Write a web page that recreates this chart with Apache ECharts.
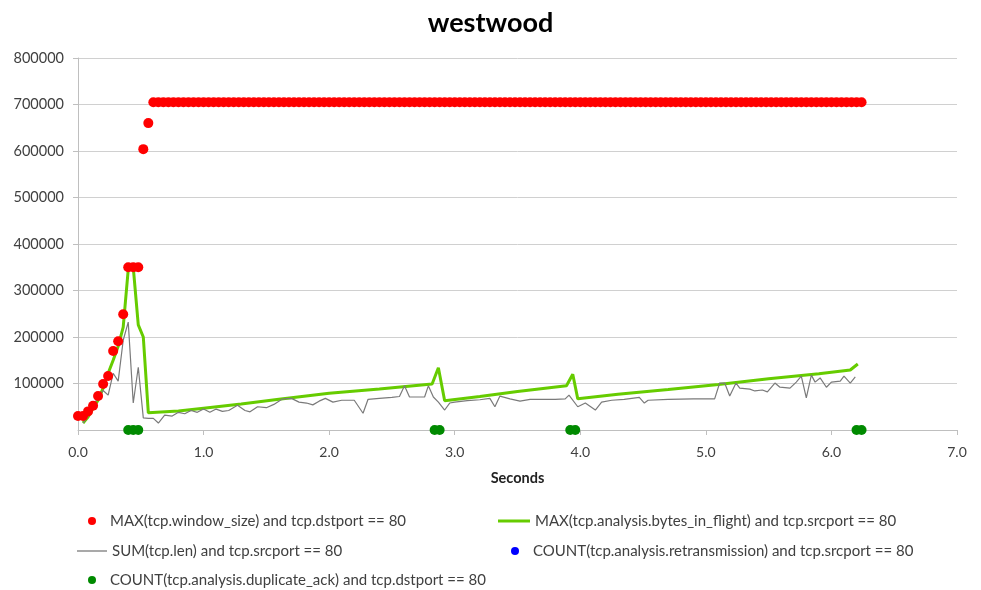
<!DOCTYPE html>
<html>
<head>
<meta charset="utf-8">
<script src="https://cdn.jsdelivr.net/npm/echarts@6/dist/echarts.min.js"></script>
<style>
html,body{margin:0;padding:0;background:#fff;}
#chart{width:981px;height:590px;}
</style>
</head>
<body>
<div id="chart"></div>
<script>
// ---- Data ----
const titleText = 'westwood';
const xAxisName = 'Seconds';
const seriesNames = [
  'MAX(tcp.window_size) and tcp.dstport == 80',
  'MAX(tcp.analysis.bytes_in_flight) and tcp.srcport == 80',
  'SUM(tcp.len) and tcp.srcport == 80',
  'COUNT(tcp.analysis.retransmission) and tcp.srcport == 80',
  'COUNT(tcp.analysis.duplicate_ack) and tcp.dstport == 80'
];

const windowTime = [
  0.00,0.04,0.08,0.12,0.16,0.20,0.24,0.28,0.32,0.36,0.40,0.44,0.48,0.52,0.56,
  0.60,0.64,0.68,0.72,0.76,0.80,0.84,0.88,0.92,0.96,
  1.00,1.04,1.08,1.12,1.16,1.20,1.24,1.28,1.32,1.36,1.40,1.44,1.48,1.52,1.56,1.60,1.64,1.68,1.72,1.76,1.80,1.84,1.88,1.92,1.96,
  2.00,2.04,2.08,2.12,2.16,2.20,2.24,2.28,2.32,2.36,2.40,2.44,2.48,2.52,2.56,2.60,2.64,2.68,2.72,2.76,2.80,2.84,2.88,2.92,2.96,
  3.00,3.04,3.08,3.12,3.16,3.20,3.24,3.28,3.32,3.36,3.40,3.44,3.48,3.52,3.56,3.60,3.64,3.68,3.72,3.76,3.80,3.84,3.88,3.92,3.96,
  4.00,4.04,4.08,4.12,4.16,4.20,4.24,4.28,4.32,4.36,4.40,4.44,4.48,4.52,4.56,4.60,4.64,4.68,4.72,4.76,4.80,4.84,4.88,4.92,4.96,
  5.00,5.04,5.08,5.12,5.16,5.20,5.24,5.28,5.32,5.36,5.40,5.44,5.48,5.52,5.56,5.60,5.64,5.68,5.72,5.76,5.80,5.84,5.88,5.92,5.96,
  6.00,6.04,6.08,6.12,6.16,6.20,6.24
];
const windowSize = [
  30000,30000,40000,52000,73000,99000,116000,170000,191000,249000,350000,350000,350000,604000,660000,
  705000,705000,705000,705000,705000,705000,705000,705000,705000,705000,
  705000,705000,705000,705000,705000,705000,705000,705000,705000,705000,705000,705000,705000,705000,705000,705000,705000,705000,705000,705000,705000,705000,705000,705000,705000,
  705000,705000,705000,705000,705000,705000,705000,705000,705000,705000,705000,705000,705000,705000,705000,705000,705000,705000,705000,705000,705000,705000,705000,705000,705000,
  705000,705000,705000,705000,705000,705000,705000,705000,705000,705000,705000,705000,705000,705000,705000,705000,705000,705000,705000,705000,705000,705000,705000,705000,705000,
  705000,705000,705000,705000,705000,705000,705000,705000,705000,705000,705000,705000,705000,705000,705000,705000,705000,705000,705000,705000,705000,705000,705000,705000,705000,
  705000,705000,705000,705000,705000,705000,705000,705000,705000,705000,705000,705000,705000,705000,705000,705000,705000,705000,705000,705000,705000,705000,705000,705000,705000,
  705000,705000,705000,705000,705000,705000,705000
];

const flightTime = [0.04,0.08,0.12,0.16,0.20,0.24,0.28,0.32,0.36,0.40,0.44,0.48,0.52,0.56,0.80,1.00,1.30,1.60,2.00,2.40,2.82,2.87,2.92,3.20,3.50,3.89,3.94,3.98,4.30,4.70,5.10,5.50,5.90,6.15,6.21];
const flightValue = [15000,28000,47000,64000,90000,122000,150000,180000,221000,345000,350000,226000,200000,37000,41000,47000,56000,66000,79000,88000,99000,134000,63000,72000,83000,95000,120000,67000,77000,87000,98000,110000,121000,129000,142000];

const lenTime = [0.04,0.08,0.12,0.16,0.20,0.24,0.28,0.32,0.36,0.40,0.44,0.48,0.52,0.56,0.60,0.64,0.69,0.75,0.80,0.85,0.90,0.95,1.00,1.05,1.10,1.15,1.20,1.27,1.33,1.37,1.43,1.50,1.56,1.63,1.70,1.76,1.82,1.87,1.92,1.97,2.03,2.10,2.20,2.27,2.31,2.40,2.50,2.56,2.60,2.64,2.76,2.79,2.83,2.87,2.92,2.96,3.00,3.10,3.20,3.28,3.32,3.36,3.44,3.52,3.60,3.70,3.80,3.88,3.91,3.98,4.04,4.12,4.17,4.25,4.35,4.47,4.51,4.54,4.70,4.90,5.07,5.11,5.15,5.19,5.24,5.27,5.35,5.39,5.45,5.49,5.55,5.59,5.67,5.72,5.76,5.80,5.84,5.87,5.91,5.96,6.00,6.07,6.10,6.15,6.19];
const lenValue = [15000,30000,50000,72000,85000,75000,122000,105000,193000,232000,58000,135000,26000,25000,25000,15000,32000,30000,38000,35000,42000,38000,45000,38000,45000,40000,42000,53000,42000,39000,50000,48000,55000,67000,68000,60000,58000,54000,62000,68000,60000,64000,64000,36000,66000,68000,70000,72000,95000,71000,71000,95000,71000,60000,43000,58000,60000,63000,65000,68000,50000,73000,67000,62000,66000,66000,66000,67000,75000,50000,58000,43000,60000,64000,66000,70000,58000,64000,66000,67000,67000,101000,101000,73000,101000,90000,88000,84000,86000,82000,101000,92000,90000,103000,116000,69000,118000,103000,112000,92000,103000,105000,116000,101000,114000];

const retransTime = [];
const retransValue = [];

const dupAckTime = [0.40,0.44,0.48,2.84,2.88,3.92,3.96,6.20,6.24];
const dupAckValue = [1,1,1,1,1,1,1,1,1];

function pairs(xs, ys){ return xs.map((x,i)=>[x, ys[i]]); }

const FONT = 'Lato';
const TXT = '#404040';

const chart = echarts.init(document.getElementById('chart'), null, {renderer:'canvas'});

function legendAt(name, icon, left, top, itemWidth, itemHeight, textPad){
  return {
    data:[{name:name, icon:icon}], left:left, top:top, orient:'horizontal',
    itemWidth:itemWidth, itemHeight:itemHeight, itemGap:0, padding:0,
    textStyle:{fontFamily:FONT, fontSize:15, color:TXT, lineHeight:16, padding:[0,0,0,textPad]},
    selectedMode:false
  };
}

chart.setOption({
  animation:false,
  backgroundColor:'#ffffff',
  title:{
    text:titleText, left:'center', top:5,
    textStyle:{fontFamily:FONT, fontSize:27, fontWeight:'bold', color:'#000'}
  },
  grid:{left:78, right:24, top:58, bottom:160, containLabel:false},
  xAxis:{
    type:'value', min:0, max:7, interval:1,
    name:xAxisName, nameLocation:'middle', nameGap:41,
    nameTextStyle:{fontFamily:FONT, fontSize:14.5, fontWeight:'bold', color:'#222'},
    axisLine:{show:true, lineStyle:{color:'#bfbfbf', width:1}},
    axisTick:{show:true, inside:false, length:5, lineStyle:{color:'#bfbfbf'}},
    axisLabel:{fontFamily:FONT, fontSize:14, color:TXT, margin:15, formatter:v=>v.toFixed(1)},
    splitLine:{show:false}
  },
  yAxis:{
    type:'value', min:0, max:800000, interval:100000,
    axisLine:{show:true, lineStyle:{color:'#bfbfbf', width:1}},
    axisTick:{show:true, inside:false, length:5, lineStyle:{color:'#bfbfbf'}},
    axisLabel:{fontFamily:FONT, fontSize:14.5, color:TXT, margin:14, showMinLabel:false, formatter:v=>String(v)},
    splitLine:{show:true, lineStyle:{color:'#d0d0d0', width:1}}
  },
  legend:[
    legendAt(seriesNames[0], 'circle', 88, 513, 8, 8, 9),
    legendAt(seriesNames[1], 'rect', 498, 513, 32, 3, 0),
    legendAt(seriesNames[2], 'rect', 77, 543, 30, 1.5, 0),
    legendAt(seriesNames[3], 'circle', 511, 543, 8, 8, 9),
    legendAt(seriesNames[4], 'circle', 88, 572, 8, 8, 9)
  ],
  series:[
    {
      name:seriesNames[1], type:'line', data:pairs(flightTime, flightValue),
      symbol:'none', showSymbol:false, z:2,
      lineStyle:{color:'#66cc00', width:3}, itemStyle:{color:'#66cc00'}
    },
    {
      name:seriesNames[2], type:'line', data:pairs(lenTime, lenValue),
      symbol:'none', showSymbol:false, z:3,
      lineStyle:{color:'#7a7a7a', width:1.2}, itemStyle:{color:'#8c8c8c'}
    },
    {
      name:seriesNames[0], type:'scatter', data:pairs(windowTime, windowSize),
      symbol:'circle', symbolSize:10, z:4, itemStyle:{color:'#ff0000', opacity:1}
    },
    {
      name:seriesNames[3], type:'scatter', data:pairs(retransTime, retransValue),
      symbol:'circle', symbolSize:10, z:4, itemStyle:{color:'#0000ff', opacity:1}
    },
    {
      name:seriesNames[4], type:'scatter', data:pairs(dupAckTime, dupAckValue),
      symbol:'circle', symbolSize:10, z:5, clip:false, itemStyle:{color:'#008a00', opacity:1}
    }
  ]
});
</script>
</body>
</html>
